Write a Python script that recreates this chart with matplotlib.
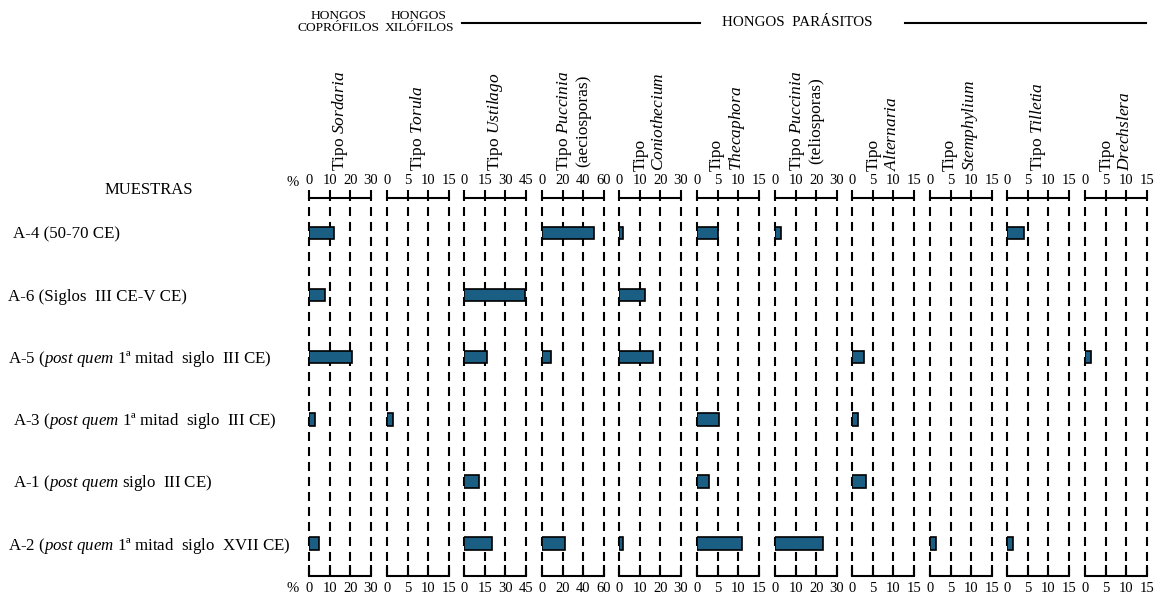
import matplotlib
matplotlib.use("Agg")
import matplotlib.pyplot as plt
from matplotlib.lines import Line2D
from matplotlib import transforms

plt.rcParams['font.family'] = ['Liberation Serif', 'DejaVu Serif']
plt.rcParams['mathtext.fontset'] = 'custom'
plt.rcParams['mathtext.rm'] = 'Liberation Serif'
plt.rcParams['mathtext.it'] = 'Liberation Serif:italic'
plt.rcParams['lines.scale_dashes'] = False

# Samples, top to bottom
samples = [
    "A-4 (50-70 CE)",
    "A-6 (Siglos  III CE-V CE)",
    r"A-5 ($\mathit{post\ quem}$ 1ª mitad  siglo  III CE)",
    r"A-3 ($\mathit{post\ quem}$ 1ª mitad  siglo  III CE)",
    r"A-1 ($\mathit{post\ quem}$ siglo  III CE)",
    r"A-2 ($\mathit{post\ quem}$ 1ª mitad  siglo  XVII CE)",
]

# Percentages per taxon (same sample order)
sordaria = [12, 7.5, 21, 3, 0, 5]
torula = [0, 0, 0, 1.5, 0, 0]
ustilago = [0, 44, 17, 0, 11, 20]
puccinia_aecio = [50, 0, 8.5, 0, 0, 22]
coniothecium = [2, 12.5, 16.5, 0, 0, 2]
thecaphora = [5, 0, 0, 5.3, 3, 11]
puccinia_telio = [3, 0, 0, 0, 0, 23]
alternaria = [0, 0, 3, 1.5, 3.5, 0]
stemphylium = [0, 0, 0, 0, 0, 1.5]
tilletia = [4.2, 0, 0, 0, 0, 1.4]
drechslera = [0, 0, 1.5, 0, 0, 0]

# Axis scales (max, step) per taxon
scales = [(30, 10), (15, 5), (45, 15), (60, 20), (30, 10), (15, 5),
          (30, 10), (15, 5), (15, 5), (15, 5), (15, 5)]

# Column headings: list of lines, multi-line alignment
headings = [
    ([r"Tipo $\mathit{Sordaria}$"], 'left'),
    ([r"Tipo $\mathit{Torula}$"], 'left'),
    ([r"Tipo $\mathit{Ustilago}$"], 'left'),
    ([r"Tipo $\mathit{Puccinia}$", "(aeciosporas)"], 'center'),
    (["Tipo", r"$\mathit{Coniothecium}$"], 'left'),
    (["Tipo", r"$\mathit{Thecaphora}$"], 'left'),
    ([r"Tipo $\mathit{Puccinia}$", "(teliosporas)"], 'center'),
    (["Tipo", r"$\mathit{Alternaria}$"], 'left'),
    (["Tipo", r"$\mathit{Stemphylium}$"], 'left'),
    ([r"Tipo $\mathit{Tilletia}$"], 'left'),
    (["Tipo", r"$\mathit{Drechslera}$"], 'left'),
]

series = [sordaria, torula, ustilago, puccinia_aecio, coniothecium, thecaphora,
          puccinia_telio, alternaria, stemphylium, tilletia, drechslera]

W, H = 1161, 601
BAR_COLOR = "#1b5e83"


def fx(px):
    return px / W


def fy(py):
    return 1 - py / H


fig = plt.figure(figsize=(W / 100, H / 100), dpi=100)

ax_top, ax_bot = 198, 576
panel_w, panel_step, first_left = 62, 77.6, 309
rows = list(range(len(samples)))
tick_fs = 10.5
grid_dash = (0, (6.5, 4.3))
axes = []

for i, (vals, (vmax, step), (lines, malign)) in enumerate(zip(series, scales, headings)):
    left = round(first_left + i * panel_step)
    ax = fig.add_axes([fx(left), fy(ax_bot), fx(panel_w), (ax_bot - ax_top) / H])
    ax.patch.set_visible(False)
    axes.append(ax)
    ticks = list(range(0, vmax + 1, step))

    present = [(r, v) for r, v in zip(rows, vals) if v > 0]
    ax.barh([r for r, _ in present], [v for _, v in present], height=0.2,
            color=BAR_COLOR, edgecolor='black', linewidth=1.2, zorder=3)
    for t in ticks:
        ax.axvline(t, color='black', linestyle=grid_dash, linewidth=1.5,
                   clip_on=False, zorder=1)

    ax.set_xlim(0, vmax)
    ax.set_ylim(5.52, -0.56)
    ax.set_yticks([])
    for s in ('left', 'right', 'top'):
        ax.spines[s].set_visible(False)
    ax.spines['bottom'].set_linewidth(1.5)
    ax.set_xticks(ticks)
    ax.set_xticklabels([str(t) for t in ticks], fontsize=tick_fs)
    ax.tick_params(axis='x', direction='in', length=8, width=1.5, pad=4.5,
                   top=False, labeltop=False)

    sec = ax.secondary_xaxis('top')
    sec.set_xticks(ticks)
    sec.set_xticklabels([str(t) for t in ticks], fontsize=tick_fs)
    sec.tick_params(axis='x', direction='out', length=6, width=1.5, pad=2)
    sec.spines['top'].set_linewidth(1.5)

    # rotated column heading
    ax.text(0.5, fy(171), "\n".join(lines),
            transform=transforms.blended_transform_factory(ax.transAxes, fig.transFigure),
            rotation=90, ha='center', va='bottom', multialignment=malign,
            fontsize=12.5, linespacing=1.15)

# sample labels
label_x = [13, 8, 8, 13, 13, 8]
lab_tr = transforms.blended_transform_factory(fig.transFigure, axes[0].transData)
for r, name, lx in zip(rows, samples, label_x):
    fig.text(fx(lx), r + 0.03, name, transform=lab_tr, ha='left', va='center',
             fontsize=12.2)

fig.text(fx(149), fy(190), "MUESTRAS", ha='center', va='center', fontsize=12)
fig.text(fx(293), fy(182), "%", ha='center', va='center', fontsize=tick_fs)
fig.text(fx(293), fy(588), "%", ha='center', va='center', fontsize=tick_fs)

# group headings
fig.text(fx(339), fy(22), "HONGOS\nCOPRÓFILOS", ha='center', va='center',
         fontsize=9.7, linespacing=1.1)
fig.text(fx(419), fy(22), "HONGOS\nXILÓFILOS", ha='center', va='center',
         fontsize=9.7, linespacing=1.1)
fig.text(fx(797), fy(23), "HONGOS  PARÁSITOS", ha='center', va='center', fontsize=10.8)
fig.add_artist(Line2D([fx(462), fx(700)], [fy(23), fy(23)], color='black', linewidth=1.5))
fig.add_artist(Line2D([fx(905), fx(1146)], [fy(23), fy(23)], color='black', linewidth=1.5))

fig.savefig("out.png", dpi=100)
